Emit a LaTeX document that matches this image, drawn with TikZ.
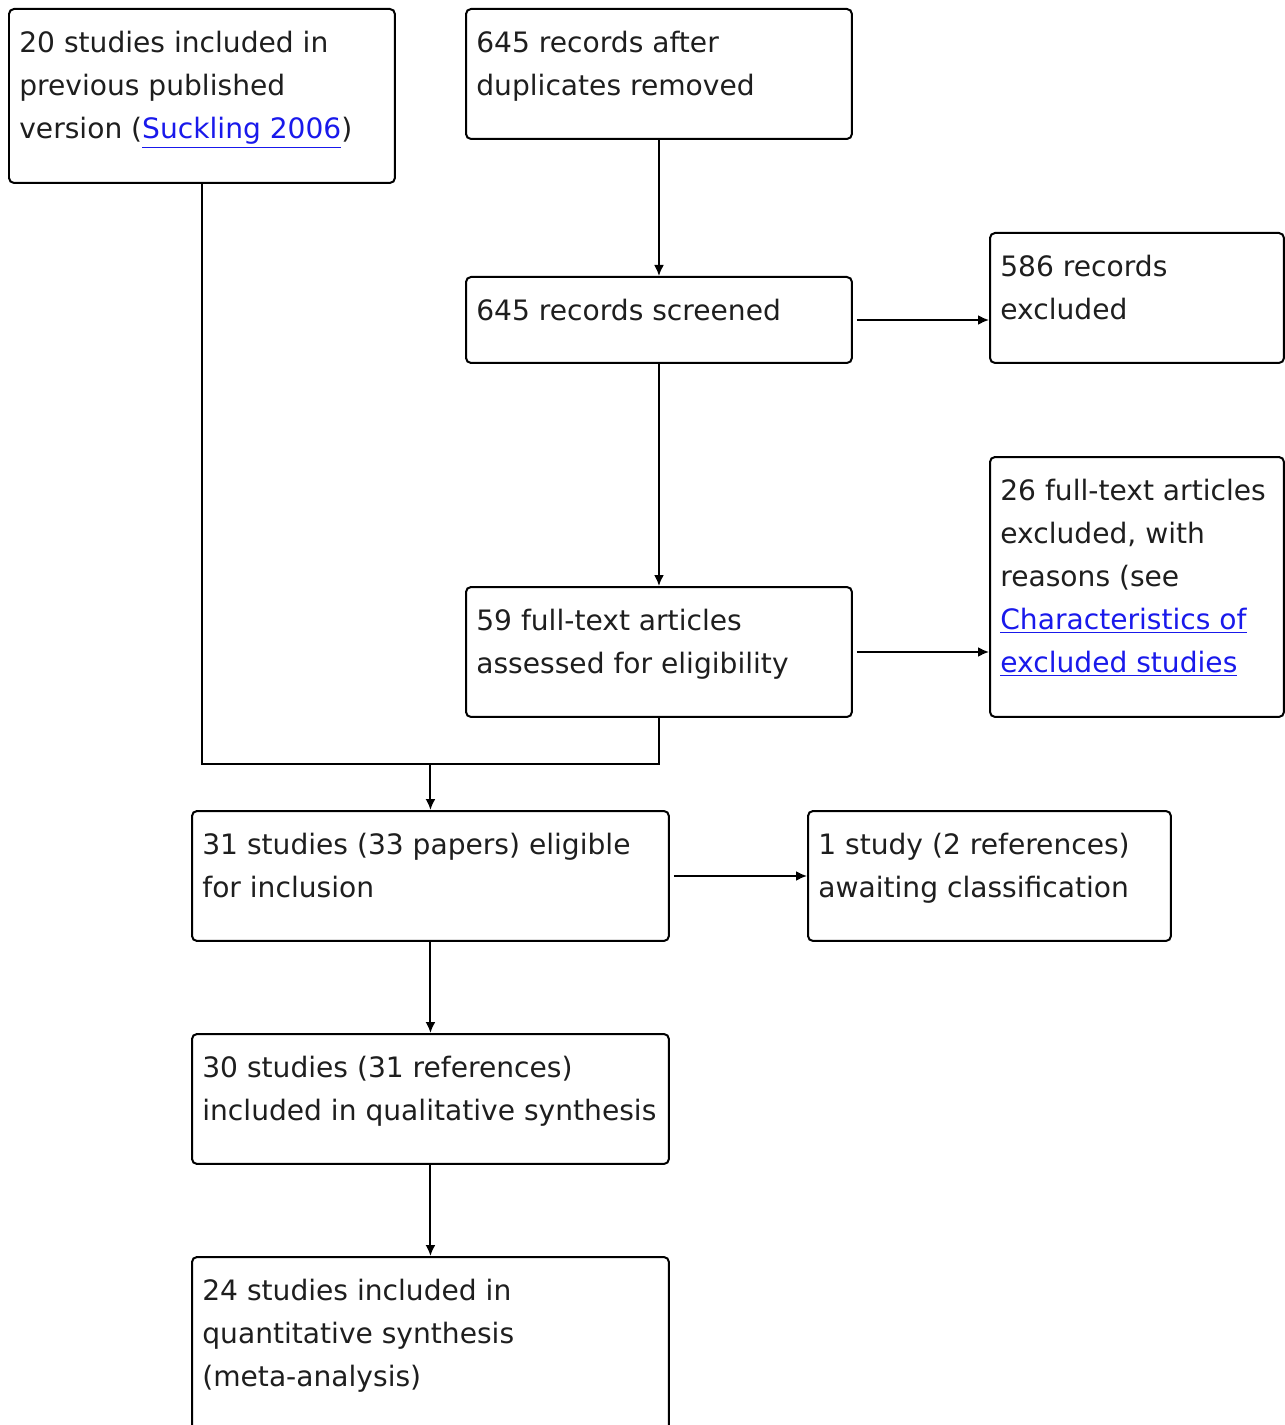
\documentclass[tikz,border=0pt]{standalone}
\usepackage{fontspec}
\setmainfont{DejaVu Sans}
\usepackage{tikz}
\usetikzlibrary{arrows.meta}

\definecolor{linkBlue}{RGB}{25,25,235}
\definecolor{textGray}{RGB}{30,30,30}
\newcommand{\lnk}[1]{\textcolor{linkBlue}{\underline{#1}}}

\begin{document}
\begin{tikzpicture}[
    x=0.02cm, y=-0.02cm,
    box/.style={draw, line width=0.04cm, rounded corners=0.1cm, anchor=north west, inner sep=0},
    colWidth/.style={minimum width=7.72cm},
    sideWidth/.style={minimum width=5.88cm},
    lowWidth/.style={minimum width=9.54cm},
    awaitWidth/.style={minimum width=7.26cm},
    twoLine/.style={minimum height=2.6cm},
    boxText/.style={anchor=north west, inner sep=0, align=left, text=textGray,
        font=\fontsize{16}{24.5}\selectfont},
    every node/.style={
        text centered,
        }
        ]
    \useasboundingbox (0, 0) rectangle (1284, 1425);

    \node[box, colWidth, minimum height=3.48cm] (prev) at (8, 8) {};
    \node[box, colWidth, twoLine] (dedup) at (465, 8) {};
    \node[box, colWidth, minimum height=1.72cm] (screened) at (465, 276) {};
    \node[box, sideWidth, twoLine] (excl) at (989, 232) {};
    \node[box, colWidth, twoLine] (fulltext) at (465, 586) {};
    \node[box, sideWidth, minimum height=5.2cm] (ftexcl) at (989, 456) {};
    \node[box, lowWidth, twoLine] (eligible) at (191, 810) {};
    \node[box, awaitWidth, twoLine] (awaiting) at (807, 810) {};
    \node[box, lowWidth, twoLine] (qual) at (191, 1033) {};
    \node[box, lowWidth, minimum height=3.8cm] (quant) at (191, 1256) {};

    \node[boxText] (prevText) at ([shift={(11, 23)}]prev.north west)
        {20 studies included in\\previous published\\version (\lnk{Suckling 2006})};
    \node[boxText] (dedupText) at ([shift={(11, 23)}]dedup.north west)
        {645 records after\\duplicates removed};
    \node[boxText] (screenedText) at ([shift={(11, 23)}]screened.north west)
        {645 records screened};
    \node[boxText] (exclText) at ([shift={(11, 23)}]excl.north west)
        {586 records\\excluded};
    \node[boxText] (fulltextText) at ([shift={(11, 23)}]fulltext.north west)
        {59 full-text articles\\assessed for eligibility};
    \node[boxText] (ftexclText) at ([shift={(11, 23)}]ftexcl.north west)
        {26 full-text articles\\excluded, with\\reasons (see\\\lnk{Characteristics of}\\\lnk{excluded studies}};
    \node[boxText] (eligibleText) at ([shift={(11, 23)}]eligible.north west)
        {31 studies (33 papers) eligible\\for inclusion};
    \node[boxText] (awaitingText) at ([shift={(11, 23)}]awaiting.north west)
        {1 study (2 references)\\awaiting classification};
    \node[boxText] (qualText) at ([shift={(11, 23)}]qual.north west)
        {30 studies (31 references)\\included in qualitative synthesis};
    \node[boxText] (quantText) at ([shift={(11, 23)}]quant.north west)
        {24 studies included in\\quantitative synthesis\\(meta-analysis)};

    \coordinate (merge) at (eligible.north |- 0, 764);

    \draw[->, >={Latex[length=0.22cm, width=0.2cm]}, line width=0.04cm] (dedup.south) -- (screened.north);
    \draw[->, >={Latex[length=0.22cm, width=0.2cm]}, line width=0.04cm, shorten <=0.08cm] (screened.east) -- (screened.east -| excl.west);
    \draw[->, >={Latex[length=0.22cm, width=0.2cm]}, line width=0.04cm] (screened.south) -- (fulltext.north);
    \draw[->, >={Latex[length=0.22cm, width=0.2cm]}, line width=0.04cm, shorten <=0.08cm] (fulltext.east) -- (fulltext.east -| ftexcl.west);
    \draw[line width=0.04cm] (prev.south) |- (merge);
    \draw[line width=0.04cm] (fulltext.south) |- (merge);
    \draw[->, >={Latex[length=0.22cm, width=0.2cm]}, line width=0.04cm] (merge) -- (eligible.north);
    \draw[->, >={Latex[length=0.22cm, width=0.2cm]}, line width=0.04cm, shorten <=0.08cm] (eligible.east) -- (awaiting.west);
    \draw[->, >={Latex[length=0.22cm, width=0.2cm]}, line width=0.04cm] (eligible.south) -- (qual.north);
    \draw[->, >={Latex[length=0.22cm, width=0.2cm]}, line width=0.04cm] (qual.south) -- (quant.north);
\end{tikzpicture}
\end{document}
